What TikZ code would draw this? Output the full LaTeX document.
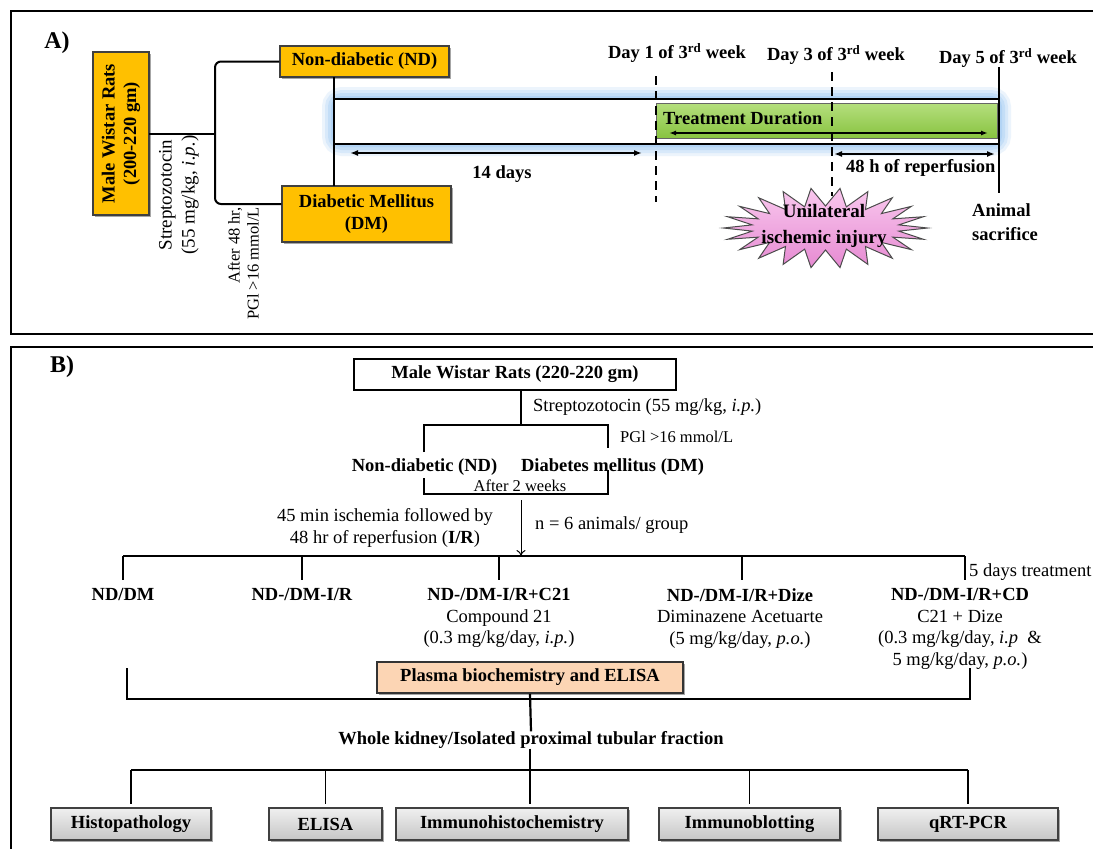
\documentclass[tikz,border=0pt]{standalone}
\usepackage{fontspec}
\setmainfont{Liberation Serif}
\usetikzlibrary{arrows.meta,shadows,calc}
\definecolor{gold}{HTML}{FFC000}
\definecolor{glow}{HTML}{8CC0F2}
\definecolor{peach}{HTML}{FCD5B4}
\definecolor{gtop}{HTML}{B5DF7E}
\definecolor{gbot}{HTML}{88C340}
\definecolor{ptop}{HTML}{F9C8EE}
\definecolor{pbot}{HTML}{E68AD2}
\begin{document}
\begin{tikzpicture}[x=1pt,y=-1pt,
  bf/.style={inner sep=0pt, font=\fontsize{18.5}{21.7}\selectfont\bfseries, align=center},
  rm/.style={inner sep=0pt, font=\fontsize{18.5}{21.7}\selectfont, align=center},
  sm/.style={inner sep=0pt, font=\fontsize{16.5}{19}\selectfont},
  panel/.style={inner sep=0pt, font=\fontsize{24}{26}\selectfont\bfseries},
  ln/.style={line width=2pt, line cap=rect},
  thin/.style={line width=1.8pt},
  dsh/.style={line width=2pt, dash pattern=on 9pt off 6pt},
  arr/.style={line width=2pt, {Latex[length=8pt,width=6pt]}-{Latex[length=8pt,width=6pt]}},
  ybox/.style={draw=black!75, line width=1.5pt, fill=gold, inner sep=0pt, align=center,
    font=\fontsize{18.5}{21.5}\selectfont\bfseries,
    drop shadow={shadow xshift=2pt, shadow yshift=-2pt, opacity=.35, fill=black}},
  gbox/.style={draw=black!75, line width=1.5pt, top color=gray!12, bottom color=gray!45,
    inner sep=0pt, minimum height=32pt, font=\fontsize{18.5}{21}\selectfont\bfseries,
    drop shadow={shadow xshift=2pt, shadow yshift=-2pt, opacity=.35, fill=black}},
]
\useasboundingbox (0,0) rectangle (1093,849);
\clip (0,0) rectangle (1093,849);
\fill[white] (0,0) rectangle (1093,849);

% ---------------- Panel A ----------------
\draw[line width=2pt] (10.5,11) rectangle (1110,334);
\node[panel] (la) at (57,43) {A)};

% glow of timeline
\foreach \w/\o in {24/0.16, 18/0.2, 12/0.25, 6/0.3} {
  \draw[line width=\w pt, color=glow, opacity=\o, rounded corners=8pt] (334,99) rectangle (999,144);
}
\fill[white] (334,99) rectangle (999,144);

\node[ybox, rotate=90, minimum width=163pt, minimum height=56pt] (male) at (121,133.5)
  {Male Wistar Rats\\(200-220 gm)};
\node[ybox, minimum width=169pt, minimum height=31pt] (nd) at (364.5,61.5) {Non-diabetic (ND)};
\node[ybox, minimum width=169pt, minimum height=56pt] (dm) at (366.5,214) {Diabetic Mellitus\\(DM)};

\coordinate (br) at (215,133.5);
\draw[ln] (male.south) -- (br);
\draw[ln, line cap=butt, rounded corners=6pt] (nd.west) -| (br) |- ([yshift=10pt]dm.west);

\node[rm, rotate=90, font=\fontsize{19}{23}\selectfont] (stz) at (179,195)
  {Streptozotocin\\(55 mg/kg, \textit{i.p.})};
\node[sm, rotate=90, align=right] (pgl) at (243.5,263.5) {After 48 hr,\\PGl >16 mmol/L};

% timeline frame
\coordinate (tl) at (334,0);
\draw[ln] (nd.south -| tl) -- (dm.north -| tl);
\coordinate (t1) at (334,99);
\coordinate (t2) at (999,99);
\coordinate (t3) at (999,144);
\coordinate (t4) at (334,144);
\coordinate (d5a) at (999,68);
\coordinate (d5b) at (999,192);

% green bar
\node[draw=black!60, line width=1pt, top color=gtop, bottom color=gbot, minimum width=341pt,
  minimum height=35pt, inner sep=0pt] (green) at (826.5,120.5) {};
\node[bf, anchor=west] (tdl) at (663,118) {Treatment Duration};
\coordinate (ta) at (669,133);
\coordinate (tb) at (988,133);
\draw[line width=1.6pt, {Latex[length=7pt,width=5pt]}-{Latex[length=7pt,width=5pt]}] (ta) -- (tb);

\draw[ln] (t1) -- (t2);
\draw[ln] (t4) -- (t3);
\draw[ln] (d5a) -- (d5b);

% dashed day markers
\coordinate (d1a) at (656,76);
\coordinate (d1b) at (656,202);
\coordinate (d3a) at (832,72);
\coordinate (d3b) at (832,196);
\draw[dsh] (d1a) -- (d1b);
\draw[dsh] (d3a) -- (d3b);

\node[bf] (day1) at (677,53) {Day 1 of 3\textsuperscript{rd} week};
\node[bf] (day3) at (836,55) {Day 3 of 3\textsuperscript{rd} week};
\node[bf] (day5) at (1008,58) {Day 5 of 3\textsuperscript{rd} week};

\coordinate (a14a) at (350,153);
\coordinate (a14b) at (642,153);
\draw[arr] (a14a) -- (a14b);
\node[bf] (d14) at (502,174) {14 days};

\coordinate (a48a) at (834,154);
\coordinate (a48b) at (995,154);
\draw[arr] (a48a) -- (a48b);
\node[bf, anchor=west] (rep) at (846,168) {48 h of reperfusion};

% star
\draw[line width=1pt, draw=black!70, top color=ptop, bottom color=pbot]
  plot[samples at={0,...,43}, variable=\t]
  ({825.5+(88+14*cos(\t*180))*cos(\t*360/44)}, {228+(31+9*cos(\t*180))*sin(\t*360/44)}) -- cycle;
\node[bf, font=\fontsize{19}{26}\selectfont\bfseries] (inj) at (824,226) {Unilateral\\ischemic injury};

\node[bf, anchor=west, align=left, font=\fontsize{18.5}{24}\selectfont\bfseries] (sac) at (972,222) {Animal\\sacrifice};

% ---------------- Panel B ----------------
\draw[line width=2pt] (10.5,347) rectangle (1110,880);
\node[panel] (lb) at (62,367) {B)};

\node[draw, line width=1.3pt, fill=white, minimum width=322pt, minimum height=31pt, inner sep=0pt,
  font=\fontsize{18.5}{21}\selectfont\bfseries] (mwr) at (515,374.5) {Male Wistar Rats (220-220 gm)};
\coordinate (s1) at (521,425);
\draw[thin] (mwr.south -| s1) -- (s1);
\node[rm, anchor=west] (stz2) at (533,407) {Streptozotocin (55 mg/kg, \textit{i.p.})};

\coordinate (u1) at (424,452);
\coordinate (u2) at (424,425);
\coordinate (u3) at (608,425);
\coordinate (u4) at (608,448);
\draw[thin] (u1) -- (u2) -- (u3) -- (u4);
\node[sm, anchor=west] (pgl2) at (620,437) {PGl >16 mmol/L};

\node[bf] (nd2) at (424.5,467) {Non-diabetic (ND)};
\node[bf] (dm2) at (612.5,467) {Diabetes mellitus (DM)};

\coordinate (l1) at (424,478);
\coordinate (l2) at (424,494);
\coordinate (l3) at (608,494);
\coordinate (l4) at (608,470);
\draw[thin] (l1) -- (l2) -- (l3) -- (l4);
\node[sm] (aw) at (520,486) {After 2 weeks};

\coordinate (ar1) at (521,500);
\coordinate (ar2) at (521,556);
\draw[line width=1pt, -{To[length=6pt,width=9pt]}] (ar1) -- (ar2);
\node[rm] (isch) at (385,528) {45 min ischemia followed by\\48 hr of reperfusion (\textbf{I/R})};
\node[rm, anchor=west] (nan) at (535,525) {n = 6 animals/ group};

% groups
\coordinate (gl) at (123,556);
\coordinate (gr) at (965,556);
\draw[thin] (gl) -- (gr);
\foreach \x [count=\i] in {123,302,499,742,965} {
  \coordinate (gt\i) at (\x,556);
  \coordinate (gb\i) at (\x,580);
  \draw[thin] (gt\i) -- (gb\i);
}
\node[rm, anchor=west] (fdt) at (969,572) {5 days treatment};

\node[rm, anchor=north] (g1) at (123,588) {\textbf{ND/DM}};
\node[rm, anchor=north] (g2) at (302,588) {\textbf{ND-/DM-I/R}};
\node[rm, anchor=north] (g3) at (499,588) {\textbf{ND-/DM-I/R+C21}\\Compound 21\\(0.3 mg/kg/day, \textit{i.p.})};
\node[rm, anchor=north] (g4) at (740,588) {\textbf{ND-/DM-I/R+Dize}\\Diminazene Acetuarte\\(5 mg/kg/day, \textit{p.o.})};
\node[rm, anchor=north] (g5) at (960,588) {\textbf{ND-/DM-I/R+CD}\\C21 + Dize\\(0.3 mg/kg/day, \textit{i.p}\ \ \&\\5 mg/kg/day, \textit{p.o.})};

\node[draw=black!80, line width=1.8pt, fill=peach, minimum width=306pt, minimum height=31pt, inner sep=0pt,
  font=\fontsize{18.5}{21}\selectfont\bfseries,
  drop shadow={shadow xshift=2pt, shadow yshift=-2pt, opacity=.35, fill=black}] (plasma) at (530,677.5)
  {Plasma biochemistry and ELISA};

\coordinate (c1) at (127,668);
\coordinate (c2) at (127,699);
\coordinate (c3) at (970,699);
\coordinate (c4) at (970,668);
\draw[thin] (c1) -- (c2) -- (c3) -- (c4);

\node[bf] (wk) at (531,740) {Whole kidney/Isolated proximal tubular fraction};
\draw[line width=2.2pt] (plasma.south) -- (wk.north);

% assays
\node[gbox, minimum width=160pt] (h1) at (131,824) {Histopathology};
\node[gbox, minimum width=113pt] (h2) at (325.5,824) {ELISA};
\node[gbox, minimum width=232pt] (h3) at (512,824) {Immunohistochemistry};
\node[gbox, minimum width=181pt] (h4) at (749.5,824) {Immunoblotting};
\node[gbox, minimum width=180pt] (h5) at (968,824) {qRT-PCR};

\coordinate (bus) at (0,770);
\draw[line width=2.2pt] (wk.south -| plasma.south) -- (plasma.south |- bus);
\draw[thin] (h1.north |- bus) -- (h5.north |- bus);
\foreach \b in {h1,h2,h4,h5} { \draw[thin] (\b.north |- bus) -- ([yshift=3pt]\b.north); }
\draw[thin] (plasma.south |- bus) -- ([yshift=3pt]plasma.south |- h3.north);
\end{tikzpicture}
\end{document}
